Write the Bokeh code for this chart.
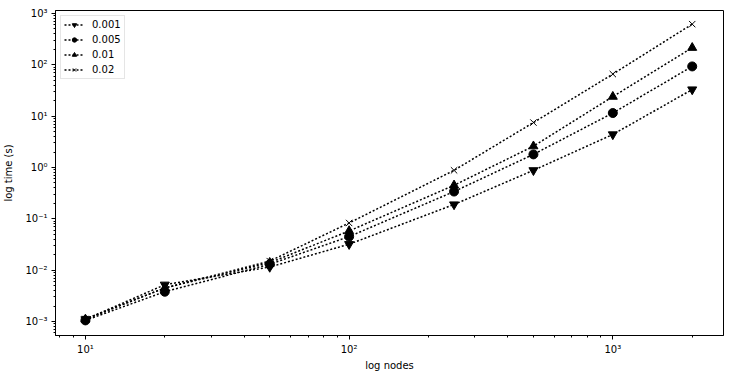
from bokeh.plotting import figure
from bokeh.models import (FixedTicker, CustomJSTickFormatter, Legend, LegendItem,
                          Range1d, ColumnDataSource)
from bokeh.embed import file_html
from bokeh.resources import INLINE

nodes = [10, 20, 50, 100, 250, 500, 1000, 2000]
labels = ["0.001", "0.005", "0.01", "0.02"]
t_0001 = [0.0011, 0.0052, 0.0115, 0.032, 0.19, 0.88, 4.4, 33]
t_0005 = [0.00105, 0.0038, 0.013, 0.045, 0.34, 1.8, 11.5, 93]
t_001 = [0.0011, 0.0045, 0.014, 0.058, 0.45, 2.6, 24, 215]
t_002 = [0.00112, 0.0045, 0.015, 0.083, 0.88, 7.5, 66, 620]
series = [t_0001, t_0005, t_001, t_002]
markers = ["inverted_triangle", "circle", "triangle", "x"]

x_major = [1e0, 1e1, 1e2, 1e3, 1e4]
y_major = [1e-4, 1e-3, 1e-2, 1e-1, 1e0, 1e1, 1e2, 1e3, 1e4]

p = figure(width=729, height=377, x_axis_type="log", y_axis_type="log",
           x_range=Range1d(10 ** 0.8866, 10 ** 3.4197),
           y_range=Range1d(10 ** -3.273, 10 ** 3.058),
           output_backend="svg", toolbar_location=None,
           min_border_left=53, min_border_right=6, min_border_top=10,
           min_border_bottom=42)

p.grid.visible = False
p.outline_line_color = "black"
p.outline_line_width = 1
p.background_fill_color = "white"
p.border_fill_color = "white"

fmt = CustomJSTickFormatter(code="""
const e = Math.round(Math.log10(tick));
const sup = {'0':'\u2070','1':'\u00b9','2':'\u00b2','3':'\u00b3','4':'\u2074',
             '5':'\u2075','6':'\u2076','7':'\u2077','8':'\u2078','9':'\u2079','-':'\u207b'};
let s = '';
for (const c of String(e)) { s += sup[c]; }
return '10' + s;
""")

def minors(decs):
    out = []
    for d in decs:
        for k in range(2, 10):
            out.append(k * 10.0 ** d)
    return out

p.xaxis.ticker = FixedTicker(ticks=x_major, minor_ticks=minors(range(0, 4)))
p.yaxis.ticker = FixedTicker(ticks=y_major, minor_ticks=minors(range(-4, 4)))

for ax in [p.xaxis[0], p.yaxis[0]]:
    ax.formatter = fmt
    ax.axis_line_color = "black"
    ax.major_tick_line_color = "black"
    ax.minor_tick_line_color = "black"
    ax.major_tick_in = 0
    ax.major_tick_out = 4
    ax.minor_tick_in = 0
    ax.minor_tick_out = 2
    ax.major_label_text_font = "DejaVu Sans"
    ax.major_label_text_font_size = "10px"
    ax.major_label_text_color = "black"
    ax.major_label_standoff = 4
    ax.axis_label_text_font = "DejaVu Sans"
    ax.axis_label_text_font_size = "10px"
    ax.axis_label_text_font_style = "normal"
    ax.axis_label_text_color = "black"

p.xaxis.axis_label = "log nodes"
p.yaxis.axis_label = "log time (s)"
p.xaxis.axis_label_standoff = 2
p.yaxis.axis_label_standoff = 8

items = []
for lab, ys, m in zip(labels, series, markers):
    src = ColumnDataSource(dict(x=nodes, y=ys))
    ln = p.line("x", "y", source=src, line_color="black", line_width=1.5,
                line_dash="2 2")
    if m == "x":
        sc = p.scatter("x", "y", source=src, marker=m, size=9,
                       line_color="black", line_width=1)
    else:
        sc = p.scatter("x", "y", source=src, marker=m, size=9,
                       fill_color="black", line_color="black")
    items.append(LegendItem(label=lab, renderers=[ln, sc]))

legend = Legend(items=items, location="top_left")
legend.label_text_font = "DejaVu Sans"
legend.label_text_font_size = "10px"
legend.label_text_color = "black"
legend.glyph_height = 11
legend.label_height = 11
legend.glyph_width = 20
legend.spacing = 4
legend.padding = 3
legend.margin = 5
legend.label_standoff = 8
legend.border_line_color = "#cccccc"
legend.border_line_width = 1
legend.background_fill_alpha = 0.8
p.add_layout(legend)

open("out.html", "w").write(file_html(p, INLINE))
